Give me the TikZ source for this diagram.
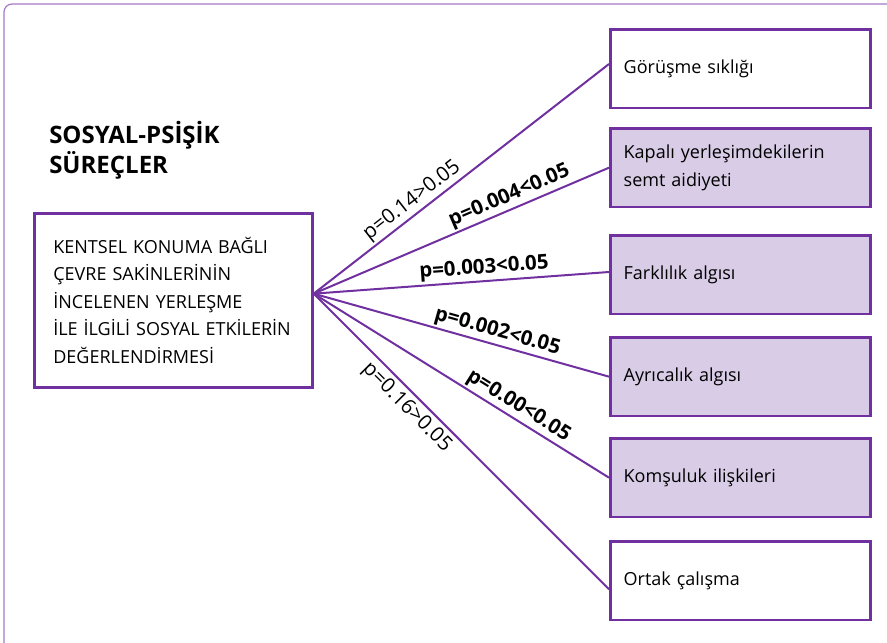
\documentclass[tikz,border=0pt]{standalone}
\usepackage{fontspec}
\setmainfont{Open Sans}
\usetikzlibrary{positioning}
\definecolor{mor}{RGB}{112,48,160}
\definecolor{lila}{RGB}{216,204,230}
\definecolor{cerceve}{RGB}{165,120,200}
\tikzset{
    kutu/.style={draw=mor, line width=2pt, anchor=north west,
        minimum width=195pt, minimum height=59pt,
        inner xsep=10pt, text width=175pt, align=left,
        font=\fontsize{13.5}{21}\selectfont},
    dolu/.style={kutu, fill=lila},
    bag/.style={draw=mor, line width=1.5pt},
    pnormal/.style={font=\fontsize{15.3}{18}\selectfont, sloped, inner sep=1.5pt},
    pkalin/.style={pnormal, font=\fontsize{15.3}{18}\selectfont\bfseries}
}
\begin{document}
\begin{tikzpicture}[x=0.75pt,y=-0.75pt]
    \useasboundingbox (0,0) rectangle (887,642);
    \clip (0,0) rectangle (887,642);
    \draw[cerceve, line width=0.9pt, rounded corners=6pt]
        (4,4) rectangle (920,680);

    \node[font=\fontsize{18}{22.5}\selectfont\bfseries, align=left,
        anchor=north west, inner sep=0pt] (baslik) at (49,121)
        {SOSYAL-PSİŞİK\\SÜREÇLER};

    \node[draw=mor, line width=2pt, anchor=north west,
        minimum width=208.5pt, minimum height=130.5pt,
        inner xsep=14pt, text width=180pt, align=left,
        font=\fontsize{13.5}{20.6}\selectfont] (ana) at (33,212)
        {KENTSEL KONUMA BAĞLI\\ÇEVRE SAKİNLERİNİN\\İNCELENEN YERLEŞME\\İLE İLGİLİ SOSYAL ETKİLERİN\\DEĞERLENDİRMESİ};

    \node[kutu] (gorusme) at (609,28) {Görüşme sıklığı};
    \node[dolu] (aidiyet) at (609,127) {Kapalı yerleşimdekilerin\\semt aidiyeti};
    \node[dolu] (farklilik) at (609,234) {Farklılık algısı};
    \node[dolu] (ayricalik) at (609,336) {Ayrıcalık algısı};
    \node[dolu] (komsuluk) at (609,437) {Komşuluk ilişkileri};
    \node[kutu] (ortak) at (609,540) {Ortak çalışma};

    \coordinate (merkez) at ([yshift=5pt]ana.east);

    \draw[bag] (merkez) -- node[pnormal, pos=0.36, above] {p=0.14>0.05}
        ([yshift=3.5pt]gorusme.west);
    \draw[bag] (merkez) -- node[pkalin, pos=0.68, above] {p=0.004<0.05}
        (aidiyet.west);
    \draw[bag] (merkez) -- node[pkalin, pos=0.58, above] {p=0.003<0.05}
        ([yshift=2pt]farklilik.west);
    \draw[bag] (merkez) -- node[pkalin, pos=0.61, above] {p=0.002<0.05}
        (ayricalik.west);
    \draw[bag] (merkez) -- node[pkalin, pos=0.67, above] {p=0.00<0.05}
        (komsuluk.west);
    \draw[bag] (merkez) -- node[pnormal, pos=0.35, below, inner sep=3pt] {p=0.16>0.05}
        ([yshift=-6.5pt]ortak.west);
\end{tikzpicture}
\end{document}
